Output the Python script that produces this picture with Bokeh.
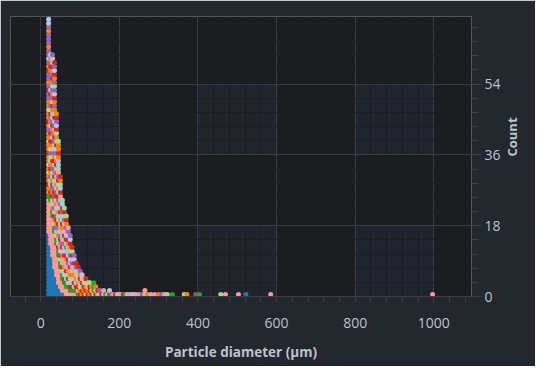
import math
from bokeh.plotting import figure
from bokeh.models import Range1d, SingleIntervalTicker, ColumnDataSource, LinearAxis, FixedTicker
from bokeh.embed import file_html
from bokeh.resources import INLINE

# ---- data: particle counts stacked per diameter bin (bottom -> top), one letter per particle/sample ----
bin_centers = [20, 25, 30, 35, 40, 45, 50, 55, 60, 65, 70, 75, 80, 85, 90, 95, 100, 105, 110, 115,
               120, 125, 130, 135, 140, 145, 150, 155, 160, 165, 170, 175,
               180, 185, 190, 195, 200, 205, 210, 215, 220, 228, 235, 242, 250, 258, 265, 272,
               280, 290, 300, 308, 315, 322, 335, 365, 372, 394, 404, 458, 470, 503, 522, 585, 997]
bin_stacks = [
    "bbbbb bbbbb bbbbb b ppppp pppp g oorooyocoo rooloouoro ocoo uuruouuroucuuo uuuou cc",
    "bbbbb bbbbb bbb ppppp ppppp p gg rolcu orocl uyoro rucou rluou rcuou uoruo c",
    "bbbbb bbbbb ppppp ppppp gg oclro urolc uoryu lorcu orucv orluo ucoru orlcu",
    "bbbbb bb ppppp pppp gg lorcu pouru clrou yrouc lurop ucrlo uorcu luorc ur",
    "bbbbb ppppp ppp gg cluor upcol rucol pucro lucrv olrcu ro",
    "bbb ppppp pp gg rclop urclo cpurl ocrup lcvor ool",
    "bb ppppp gg lrcpo rucpl ocrlu vprcl or",
    "b ppp gg crlpo cruvl porcl urcl",
    "b pp g rclop vrclu prcol ucrl",
    "pp gg lcrpv orcul rcpuo rl",
    "pp g crlop urcvl orcup",
    "p g rlcop rvcul orcu",
    "p g rcloy pucrl r",
    "p g lrcop vrcu",
    "p g rcopl ur",
    "gprol ycr",
    "rolcr ou",
    "orlry c",
    "rorlp",
    "lroyr",
    "rolc",
    "orrl",
    "ryo",
    "lggg",
    "rlo",
    "pr",
    "lu",
    "r",
    "vp",
    "g",
    "l",
    "rc",
    "u", "p", "r", "l", "v", "p", "r", "g", "v", "p", "c", "v", "p", "u", "lp", "o",
    "v", "p", "o", "u", "p", "l", "g", "l", "o", "n", "g", "l", "p", "p", "b", "p", "p",
]
sample_colors = {
    "b": "#1f77b4", "c": "#aec7e8", "o": "#ff7f0e", "y": "#ffbb78", "g": "#2ca02c",
    "l": "#98df8a", "r": "#d62728", "p": "#ff9896", "u": "#9467bd", "v": "#c5b0d5",
    "n": "#8c564b",
}
x_ticks = [0, 200, 400, 600, 800, 1000]
y_ticks = [0, 18, 36, 54]
y_label = "Count"
x_label = "Particle diameter (µm)"

# ---- build dots ----
xs, ys, cs = [], [], []
for xc, stack in zip(bin_centers, bin_stacks):
    for k, ch in enumerate(stack.replace(" ", "")):
        xs.append(xc)
        ys.append(k + 0.5)
        cs.append(sample_colors[ch])
src = ColumnDataSource(dict(x=xs, y=ys, c=cs))

TXT = "#bcc3cd"
FONT = "Open Sans"
BG = "#1c1d21"
Y_END = 71.2

p = figure(frame_width=461, frame_height=280,
           min_border_left=10, min_border_right=64, min_border_top=16, min_border_bottom=70,
           x_range=Range1d(-77, 1096), y_range=Range1d(0, Y_END),
           y_axis_location="right", output_backend="svg", toolbar_location=None)
p.background_fill_color = BG
p.border_fill_color = "#23272e"
p.outline_line_color = None

# lighter cells where alternate x and y bands intersect
L, R, B, T = [], [], [], []
for i in range(0, len(x_ticks) - 1, 2):
    for j in range(0, len(y_ticks) - 1, 2):
        L.append(x_ticks[i]); R.append(x_ticks[i + 1])
        B.append(y_ticks[j]); T.append(y_ticks[j + 1])
p.quad(left=L, right=R, bottom=B, top=T, fill_color="#20252d", line_color=None, level="image")

p.scatter("x", "y", source=src, size=5, fill_color="c", line_color=None)

xa = p.xaxis[0]
ya = p.yaxis[0]
xa.ticker = SingleIntervalTicker(interval=200, num_minor_ticks=5)
ya.ticker = SingleIntervalTicker(interval=18, num_minor_ticks=5)

for g in (p.xgrid[0], p.ygrid[0]):
    g.grid_line_color = "#393c43"
    g.grid_line_width = 1
    g.minor_grid_line_color = BG
    g.minor_grid_line_width = 1

for ax in (xa, ya):
    ax.axis_line_color = "#393c43"
    ax.major_tick_line_color = "#3c4048"
    ax.minor_tick_line_color = "#3c4048"
    ax.major_tick_in = 0
    ax.minor_tick_in = 0
    ax.major_label_text_color = TXT
    ax.major_label_text_font = FONT
    ax.major_label_text_font_size = "14px"
    ax.axis_label_text_color = TXT
    ax.axis_label_text_font = FONT
    ax.axis_label_text_font_style = "bold"

xa.axis_label = x_label
xa.axis_label_text_font_size = "13.5px"
xa.major_tick_out = 5
xa.minor_tick_out = 5
xa.major_label_standoff = 16
xa.axis_label_standoff = 12

ya.axis_line_color = None
ya.major_tick_out = 10
ya.minor_tick_out = 6
ya.major_label_standoff = 3

# y axis title reading bottom-to-top
if "axis_label_orientation" in type(ya).properties():
    ya.axis_label = y_label
    ya.axis_label_text_font_size = "13px"
    ya.axis_label_standoff = 8
    ya.axis_label_orientation = math.pi / 2
else:
    ta = LinearAxis(ticker=FixedTicker(ticks=[Y_END / 2]),
                    major_label_overrides={Y_END / 2: y_label},
                    major_label_orientation=math.pi / 2,
                    axis_line_color=None, major_tick_line_color=None, minor_tick_line_color=None,
                    major_label_standoff=0, major_label_text_color=TXT,
                    major_label_text_font=FONT, major_label_text_font_size="13px",
                    major_label_text_font_style="bold")
    p.add_layout(ta, "right")

open("out.html", "w").write(file_html(p, INLINE))
